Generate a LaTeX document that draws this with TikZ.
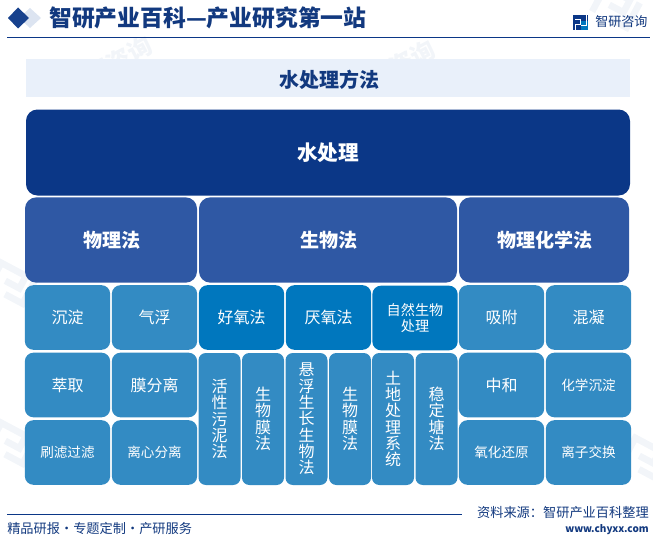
\documentclass[tikz,border=0pt]{standalone}
\usepackage{fontspec}
\setmainfont{Noto Sans CJK SC}
\usepackage{tikz}
\definecolor{zy_navy}{HTML}{0B3787}
\definecolor{zy_blue}{HTML}{2F58A4}
\definecolor{zy_mid}{HTML}{0077BE}
\definecolor{zy_light}{HTML}{338BC3}
\definecolor{zy_pale}{HTML}{E9F0FA}
\definecolor{zy_mark}{HTML}{F2F5F9}
\definecolor{zy_text}{HTML}{12397F}
\tikzset{
    boxtop/.style={fill=zy_navy, text=white, rounded corners=8.5pt, inner sep=0pt, font=\fontsize{15.5}{18}\selectfont\bfseries, minimum width=453pt, minimum height=64.5pt},
    boxgroup/.style={fill=zy_blue, text=white, rounded corners=8.5pt, inner sep=0pt, font=\fontsize{14.3}{17}\selectfont\bfseries, minimum height=64pt, execute at begin node=\hspace*{2pt}},
    boxleaf/.style={fill=zy_light, text=white, rounded corners=6.5pt, inner sep=0pt, align=center, font=\fontsize{12}{13}\selectfont, minimum width=64pt, minimum height=48.5pt},
    boxsmall/.style={boxleaf, font=\fontsize{10.2}{13}\selectfont},
    boxaero/.style={boxleaf, fill=zy_mid},
    boxtall/.style={boxleaf, rounded corners=5.5pt, minimum width=31.5pt, minimum height=99pt, font=\fontsize{12}{12.2}\selectfont},
    watermark/.style={text=zy_mark, rotate=28, font=\fontsize{18}{20}\selectfont\bfseries},
    markline/.style={zy_mark, line width=5pt}
}
\begin{document}
\begin{tikzpicture}[x=0.75pt, y=-0.75pt]
    \useasboundingbox (0, 0) rectangle (653, 542);

    % faint marks behind everything
    \node[watermark] (mark1) at (108, 66) {智研咨询};
    \node[watermark] (mark2) at (412, 58) {咨询};
    \foreach \mx/\my in {8/280, 8/440, 642/455, 612/4} {
        \begin{scope}[shift={(\mx, \my)}, rotate=-28]
            \draw[markline] (-14, 16) -- (-14, -12) -- (14, -12) -- (14, 2) -- (-2, 2);
            \draw[markline] (24, -14) -- (24, 14) -- (4, 14);
        \end{scope}
    }

    % header
    \fill[zy_pale!70!zy_blue!45] (30, 8) -- (41, 18) -- (30, 28) -- (19, 18) -- cycle;
    \fill[zy_navy!95!white] (18, 7.5) -- (29, 18) -- (18, 28.5) -- (8, 18) -- cycle;
    \node[anchor=west, inner sep=0pt, text=zy_text, font=\fontsize{17.1}{20}\selectfont\bfseries] (headline) at (49, 18) {智研产业百科—产业研究第一站};
    \fill[zy_navy] (573, 15.5) rectangle (588, 30);
    \fill[zy_mid] (581, 21) rectangle (588, 30);
    \draw[white, line width=0.7pt] (575, 19) -- (580, 19) -- (580, 24) -- (575, 24) -- (575, 30);
    \draw[white, line width=0.7pt] (586, 15.5) -- (586, 25) -- (581, 25);
    \node[anchor=west, inner sep=0pt, text=zy_text, font=\fontsize{9.8}{12}\selectfont] (brand) at (595, 22) {智研咨询};
    \draw[zy_navy, line width=0.75pt] (7, 38) -- (650, 38);

    % title strip
    \fill[zy_pale] (26, 59) rectangle (630, 97);
    \node[text=zy_text, inner sep=0pt, font=\fontsize{15}{18}\selectfont\bfseries] (caption) at (329, 80) {水处理方法};

    \node[boxtop] (water) at (328, 152.5) {水处理};

    \node[boxgroup, minimum width=129pt] (phys) at (111, 240) {物理法};
    \node[boxgroup, minimum width=193.5pt] (bio) at (328, 240) {生物法};
    \node[boxgroup, minimum width=127.5pt] (chem) at (544, 240) {物理化学法};

    \node[boxleaf] (settle) at (67.5, 317.5) {沉淀};
    \node[boxleaf] (float) at (154.5, 317.5) {气浮};
    \node[boxaero] (aerobic) at (241.5, 317.5) {好氧法};
    \node[boxaero] (anaerobic) at (328.5, 317.5) {厌氧法};
    \node[boxaero, font=\fontsize{10.6}{12.6}\selectfont] (natural) at (415, 318) {自然生物\\处理};
    \node[boxleaf] (adsorb) at (501.5, 317.5) {吸附};
    \node[boxleaf] (coagulate) at (588.5, 317.5) {混凝};

    \node[boxleaf] (extract) at (67.5, 385) {萃取};
    \node[boxleaf] (membrane) at (154.5, 385) {膜分离};
    \node[boxleaf] (neutral) at (501.5, 385) {中和};
    \node[boxsmall] (chemsettle) at (588.5, 385) {化学沉淀};

    \node[boxsmall] (brush) at (67.5, 452.5) {刷滤过滤};
    \node[boxsmall] (centrifuge) at (154.5, 452.5) {离心分离};
    \node[boxsmall] (redox) at (501.5, 452.5) {氧化还原};
    \node[boxsmall] (exchange) at (588.5, 452.5) {离子交换};

    \node[boxtall] (sludge) at (219.5, 419) {活\\性\\污\\泥\\法};
    \node[boxtall] (biofilm) at (263, 419) {生\\物\\膜\\法};
    \node[boxtall] (suspended) at (306.5, 419) {悬\\浮\\生\\长\\生\\物\\法};
    \node[boxtall] (biofilmtwo) at (350, 419) {生\\物\\膜\\法};
    \node[boxtall] (land) at (393, 419) {土\\地\\处\\理\\系\\统};
    \node[boxtall] (pond) at (436.5, 419) {稳\\定\\塘\\法};

    % footer
    \draw[zy_navy, line width=0.75pt] (7, 514) -- (462, 514);
    \node[anchor=west, inner sep=0pt, text=zy_text, font=\fontsize{9.9}{12}\selectfont] (slogan) at (7, 528) {精品研报·专题定制·产研服务};
    \node[anchor=east, inner sep=0pt, text=zy_text, font=\fontsize{9.9}{12}\selectfont] (source) at (649, 513) {资料来源：智研产业百科整理};
    \node[anchor=east, inner sep=0pt, text=zy_text, font=\fontsize{7.5}{9}\selectfont\bfseries] (site) at (649, 530) {www.chyxx.com};
\end{tikzpicture}
\end{document}
